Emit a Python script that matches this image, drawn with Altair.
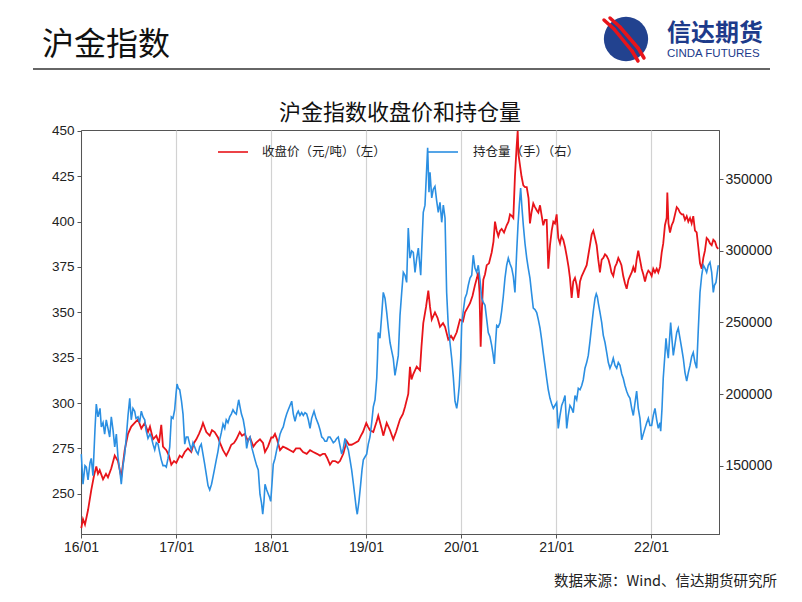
import altair as alt
import numpy as np
import pandas as pd

# ---------------- data ----------------
# time is given in years elapsed since 2016-01-01
price_years = [
    0.003, 0.021, 0.042, 0.074, 0.108, 0.137, 0.161, 0.179, 0.197, 0.232, 0.263, 0.284, 0.319, 0.355, 0.389, 0.424, 0.460, 0.495,
    0.529, 0.565, 0.600, 0.635, 0.671, 0.705, 0.726, 0.758, 0.793, 0.821, 0.845, 0.863, 0.898, 0.926, 0.951, 0.979, 1.003,
    1.039, 1.063, 1.092, 1.126, 1.161, 1.189, 1.214, 1.242, 1.266, 1.284, 1.319, 1.355, 1.379, 1.407, 1.442, 1.463, 1.495, 1.529,
    1.558, 1.582, 1.611, 1.635, 1.671, 1.695, 1.723, 1.758, 1.779, 1.814, 1.842, 1.884, 1.916, 1.937, 1.968, 1.989, 2.003,
    2.021, 2.042, 2.063, 2.095, 2.126, 2.165, 2.200, 2.235, 2.263, 2.305, 2.337, 2.376, 2.411, 2.445, 2.484, 2.516, 2.547, 2.568,
    2.589, 2.621, 2.647, 2.674, 2.705, 2.726, 2.761, 2.797, 2.821, 2.849, 2.884, 2.919, 2.947, 2.968, 3.003,
    3.021, 3.042, 3.077, 3.113, 3.129, 3.165, 3.182, 3.218, 3.253, 3.287, 3.316, 3.358, 3.389, 3.411, 3.445, 3.463, 3.479, 3.498,
    3.534, 3.568, 3.584, 3.603, 3.632, 3.656, 3.674, 3.692, 3.726, 3.753, 3.779, 3.811, 3.832, 3.866, 3.895, 3.919, 3.955, 3.989,
    4.021, 4.042, 4.074, 4.095, 4.121, 4.147, 4.168, 4.182, 4.195, 4.207, 4.221, 4.235, 4.253, 4.271, 4.295, 4.323, 4.342, 4.358,
    4.376, 4.393, 4.411, 4.428, 4.453, 4.481, 4.500, 4.516, 4.537, 4.551, 4.568, 4.584, 4.597, 4.605, 4.621, 4.637, 4.656, 4.674,
    4.692, 4.711, 4.726, 4.742, 4.761, 4.779, 4.800, 4.814, 4.832, 4.847, 4.866, 4.884, 4.902, 4.919, 4.937, 4.955, 4.972, 4.989, 5.007,
    5.024, 5.042, 5.058, 5.077, 5.095, 5.113, 5.132, 5.147, 5.165, 5.182, 5.200, 5.218, 5.235, 5.253, 5.271, 5.289, 5.323, 5.342,
    5.358, 5.376, 5.393, 5.411, 5.428, 5.445, 5.463, 5.481, 5.498, 5.516, 5.534, 5.553, 5.568, 5.584, 5.603, 5.621, 5.639, 5.656,
    5.674, 5.689, 5.708, 5.726, 5.744, 5.763, 5.779, 5.797, 5.814, 5.832, 5.849, 5.866, 5.884, 5.902, 5.919, 5.937, 5.955, 5.972,
    5.989, 6.007,
    6.024, 6.042, 6.060, 6.077, 6.095, 6.113, 6.129, 6.147, 6.165, 6.172, 6.184, 6.200, 6.218, 6.235, 6.253, 6.271, 6.287, 6.305,
    6.323, 6.340, 6.358, 6.376, 6.393, 6.411, 6.428, 6.445, 6.463, 6.481, 6.498, 6.516, 6.534, 6.551, 6.568, 6.586, 6.603, 6.621,
    6.639, 6.656, 6.674, 6.692, 6.708,
]
price_values = [
    231, 236, 233, 241, 252, 260, 265, 261, 263, 258, 261, 259, 264, 271, 268, 259, 274, 283,
    287, 289, 291, 286, 289, 284, 287, 280, 282, 278, 288, 276, 274, 271, 266, 268, 267,
    271, 270, 273, 275, 273, 278, 280, 283, 286, 289, 284, 282, 285, 284, 281, 278, 274, 271,
    274, 277, 278, 280, 284, 282, 283, 279, 281, 276, 278, 280, 278, 273, 276, 279, 281,
    281, 283, 280, 274, 276, 275, 274, 273, 275, 275, 273, 272, 274, 273, 272, 271, 272, 272,
    270, 266, 268, 268, 267, 268, 272, 279, 277, 277, 278, 279, 282, 284, 289,
    287, 285, 284, 290, 293, 286, 282, 289, 285, 280, 284, 291, 294, 298, 305, 320, 313, 316,
    320, 318, 331, 344, 353, 362, 353, 346, 350, 347, 342, 344, 342, 335, 337, 335, 339, 346,
    345, 350, 353, 355, 359, 365, 369, 372, 361, 331, 353, 368, 371, 376, 377, 383, 389, 400,
    395, 392, 395, 396, 394, 398, 400, 404, 403, 402, 425, 440, 450, 437, 431, 425, 420, 419,
    419, 413, 399, 405, 410, 408, 406, 405, 409, 404, 398, 401, 401, 374, 387, 395, 400, 399, 404,
    391, 388, 392, 390, 386, 381, 375, 369, 358, 367, 369, 365, 358, 367, 370, 372, 376, 382,
    387, 393, 395, 391, 387, 379, 372, 379, 380, 382, 381, 379, 376, 372, 370, 375, 377, 380,
    378, 376, 370, 366, 363, 368, 370, 372, 375, 372, 379, 384, 379, 374, 371, 367, 371, 373,
    372, 370,
    374, 372, 374, 372, 375, 383, 388, 398, 402, 416, 399, 394, 398, 400, 404, 408, 407, 405,
    404, 404, 401, 403, 400, 402, 399, 403, 395, 394, 386, 377, 374, 380, 384, 391, 390, 388,
    387, 390, 389, 386, 385,
]

oi_years = [
    0.003, 0.021, 0.042, 0.056, 0.074, 0.095, 0.108, 0.126, 0.147, 0.161, 0.179, 0.200, 0.214, 0.232, 0.249, 0.266, 0.284, 0.302,
    0.319, 0.337, 0.355, 0.372, 0.389, 0.411, 0.424, 0.442, 0.460, 0.477, 0.495, 0.513, 0.529, 0.547, 0.565, 0.579, 0.600, 0.616,
    0.635, 0.653, 0.671, 0.684, 0.705, 0.726, 0.740, 0.758, 0.776, 0.793, 0.811, 0.826, 0.845, 0.863, 0.884, 0.898, 0.916, 0.934,
    0.951, 0.968, 0.986,
    1.000, 1.011, 1.024, 1.039, 1.058, 1.074, 1.092, 1.108, 1.126, 1.144, 1.161, 1.179, 1.197, 1.214, 1.232, 1.249, 1.266, 1.284,
    1.302, 1.321, 1.337, 1.355, 1.374, 1.389, 1.407, 1.424, 1.442, 1.460, 1.477, 1.495, 1.513, 1.529, 1.547, 1.565, 1.582, 1.600,
    1.618, 1.635, 1.647, 1.660, 1.674, 1.689, 1.708, 1.726, 1.744, 1.761, 1.779, 1.800, 1.816, 1.832, 1.849, 1.866, 1.884, 1.900,
    1.913, 1.926, 1.937, 1.955, 1.972, 1.984, 1.997,
    2.011, 2.024, 2.042, 2.060, 2.077, 2.095, 2.113, 2.129, 2.147, 2.165, 2.182, 2.200, 2.218, 2.235, 2.253, 2.271, 2.287, 2.305,
    2.323, 2.340, 2.358, 2.376, 2.393, 2.411, 2.428, 2.453, 2.474, 2.498, 2.516, 2.534, 2.551, 2.568, 2.586, 2.603, 2.621, 2.639,
    2.656, 2.674, 2.692, 2.708, 2.726, 2.744, 2.761, 2.779, 2.797, 2.814, 2.832, 2.849, 2.866, 2.884, 2.898, 2.908, 2.926, 2.944,
    2.958, 2.972, 2.989,
    3.007, 3.024, 3.042, 3.060, 3.077, 3.095, 3.113, 3.121, 3.129, 3.147, 3.165, 3.182, 3.200, 3.218, 3.235, 3.253, 3.271, 3.287,
    3.305, 3.323, 3.340, 3.358, 3.376, 3.393, 3.411, 3.428, 3.445, 3.463, 3.481, 3.498, 3.516, 3.534, 3.551, 3.576, 3.589, 3.603,
    3.621, 3.639, 3.649, 3.663, 3.674, 3.692, 3.708, 3.726, 3.744, 3.761, 3.779, 3.797, 3.814, 3.832, 3.849, 3.866, 3.884, 3.902,
    3.919, 3.937, 3.955, 3.968, 3.982, 3.997,
    4.007, 4.024, 4.042, 4.060, 4.077, 4.095, 4.113, 4.129, 4.147, 4.165, 4.182, 4.200, 4.218, 4.235, 4.253, 4.271, 4.287, 4.305,
    4.323, 4.337, 4.351, 4.363, 4.376, 4.393, 4.411, 4.428, 4.445, 4.463, 4.481, 4.498, 4.516, 4.534, 4.551, 4.568, 4.586, 4.600,
    4.614, 4.628, 4.642, 4.656, 4.674, 4.692, 4.708, 4.726, 4.744, 4.761, 4.779, 4.797, 4.814, 4.832, 4.849, 4.866, 4.884, 4.902,
    4.919, 4.937, 4.955, 4.972, 4.989,
    5.007, 5.024, 5.042, 5.060, 5.077, 5.095, 5.113, 5.129, 5.147, 5.165, 5.182, 5.200, 5.218, 5.235, 5.253, 5.271, 5.287, 5.305,
    5.323, 5.340, 5.358, 5.376, 5.393, 5.411, 5.424, 5.435, 5.447, 5.463, 5.481, 5.498, 5.516, 5.534, 5.551, 5.568, 5.586, 5.603,
    5.621, 5.639, 5.656, 5.674, 5.692, 5.708, 5.726, 5.744, 5.761, 5.779, 5.797, 5.814, 5.832, 5.849, 5.866, 5.884, 5.902, 5.919,
    5.937, 5.955, 5.972, 5.989,
    6.007, 6.024, 6.042, 6.060, 6.077, 6.095, 6.102, 6.116, 6.129, 6.147, 6.158, 6.168, 6.182, 6.195, 6.207, 6.221, 6.235, 6.253,
    6.271, 6.287, 6.305, 6.323, 6.340, 6.358, 6.376, 6.393, 6.411, 6.428, 6.445, 6.463, 6.481, 6.498, 6.516, 6.534, 6.551, 6.568,
    6.586, 6.603, 6.621, 6.639, 6.656, 6.668, 6.684, 6.698, 6.708,
]
# open interest in thousands of lots
oi_thousands = [
    158, 137, 150, 149, 140, 152, 155, 143, 175, 193, 184, 190, 177, 180, 172, 182, 176, 170,
    184, 175, 163, 172, 156, 145, 137, 150, 158, 170, 185, 197, 182, 190, 188, 183, 184, 180,
    188, 184, 182, 175, 169, 172, 170, 165, 161, 166, 165, 160, 154, 150, 150, 149, 155, 163,
    184, 183, 189,
    200, 207, 204, 203, 195, 186, 165, 170, 170, 165, 161, 166, 163, 160, 158, 163, 165, 158,
    151, 143, 136, 133, 137, 142, 148, 154, 160, 168, 173, 179, 176, 182, 180, 184, 186, 189,
    187, 186, 191, 196, 191, 186, 182, 175, 162, 168, 170, 162, 158, 154, 150, 147, 130, 124,
    116, 125, 137, 133, 130, 128, 125,
    138, 151, 155, 161, 166, 172, 175, 177, 182, 186, 189, 192, 195, 186, 181, 186, 188, 185,
    187, 185, 187, 186, 182, 176, 183, 188, 183, 179, 175, 170, 169, 167, 167, 170, 170, 168,
    166, 167, 169, 170, 164, 158, 162, 169, 164, 161, 154, 147, 138, 128, 120, 116, 125, 137,
    147, 154, 156,
    158, 165, 170, 180, 191, 196, 211, 225, 243, 239, 255, 271, 267, 257, 246, 236, 230, 225,
    213, 220, 227, 255, 271, 285, 283, 278, 316, 295, 300, 299, 285, 295, 302, 283, 305, 327,
    332, 358, 372, 341, 355, 337, 343, 345, 335, 327, 334, 320, 332, 323, 271, 248, 236, 225,
    212, 195, 190, 196, 206, 225,
    248, 258, 267, 270, 276, 281, 283, 297, 288, 285, 290, 280, 267, 264, 262, 252, 243, 240,
    234, 228, 221, 235, 248, 247, 250, 258, 268, 281, 290, 295, 291, 288, 282, 271, 299, 318,
    332, 344, 330, 318, 305, 295, 288, 281, 270, 260, 259, 257, 252, 246, 238, 229, 220, 211,
    203, 197, 193, 190, 192,
    194, 176, 185, 192, 195, 199, 176, 185, 192, 190, 187, 199, 196, 204, 203, 206, 210, 218,
    222, 227, 237, 248, 258, 267, 270, 268, 263, 257, 250, 241, 236, 229, 222, 218, 221, 225,
    220, 218, 222, 220, 214, 211, 206, 202, 199, 197, 190, 185, 194, 202, 190, 183, 168, 172,
    176, 180, 183, 178,
    178, 185, 190, 182, 176, 180, 174, 190, 211, 228, 239, 232, 225, 238, 250, 238, 227, 235,
    243, 246, 239, 232, 225, 215, 209, 215, 220, 226, 229, 222, 218, 245, 271, 283, 290, 288,
    285, 290, 292, 285, 271, 276, 278, 285, 290,
]

assert len(price_years) == len(price_values)
assert len(oi_years) == len(oi_thousands)

start = pd.Timestamp("2016-01-01")
price_df = pd.DataFrame({
    "date": start + pd.to_timedelta(np.array(price_years) * 365.25, unit="D"),
    "price": price_values,
})
oi_df = pd.DataFrame({
    "date": start + pd.to_timedelta(np.array(oi_years) * 365.25, unit="D"),
    "oi": np.array(oi_thousands) * 1000,
})

left_ticks = [250, 275, 300, 325, 350, 375, 400, 425, 450]
right_ticks = [150000, 200000, 250000, 300000, 350000]
year_ticks = [alt.DateTime(year=y, month=1, date=1) for y in range(2016, 2023)]

RED = "#e8141a"
BLUE = "#2b8fe2"
CJK = "Noto Sans CJK SC"
LAT = "Liberation Sans"

x_enc = alt.X(
    "date:T",
    scale=alt.Scale(domain=[alt.DateTime(year=2016, month=1, date=1),
                            alt.DateTime(year=2022, month=9, date=19)]),
    axis=alt.Axis(values=year_ticks, format="%y/%m", title=None, grid=True,
                  gridColor="#d2d2d2", gridWidth=1.2, tickSize=4, labelPadding=2,
                  labelFontSize=14, labelFont=LAT, labelColor="#222",
                  domainColor="#555", tickColor="#555", labelFlush=False),
)

price_line = alt.Chart(price_df).mark_line(color=RED, strokeWidth=1.8).encode(
    x=x_enc,
    y=alt.Y("price:Q",
            scale=alt.Scale(domain=[227.8, 450.5], nice=False, zero=False),
            axis=alt.Axis(values=left_ticks, orient="left", title=None, grid=False,
                          tickSize=4, labelPadding=3, labelFontSize=13.5, labelFont=LAT,
                          labelColor="#222", domainColor="#555", tickColor="#555")),
)

oi_line = alt.Chart(oi_df).mark_line(color=BLUE, strokeWidth=1.6).encode(
    x=alt.X("date:T"),
    y=alt.Y("oi:Q",
            scale=alt.Scale(domain=[102200, 384500], nice=False, zero=False),
            axis=alt.Axis(values=right_ticks, orient="right", title=None, grid=False,
                          format="d", tickSize=4, labelPadding=2, labelFontSize=14,
                          labelFont=LAT, labelColor="#222", domainColor="#555",
                          tickColor="#555")),
)

one = pd.DataFrame({"k": [0]})


def txt(s, x, y, size, align="left", font=CJK, color="#111", weight="normal"):
    return alt.Chart(one).mark_text(
        text=s, align=align, baseline="middle", fontSize=size, font=font,
        color=color, fontWeight=weight,
    ).encode(x=alt.value(x), y=alt.value(y))


def hrule(x1, x2, y, color, width):
    return alt.Chart(one).mark_rule(color=color, strokeWidth=width).encode(
        x=alt.value(x1), x2=alt.value(x2), y=alt.value(y))


def seg(x1, y1, x2, y2, color, width):
    return alt.Chart(one).mark_rule(color=color, strokeWidth=width, strokeCap="round").encode(
        x=alt.value(x1), x2=alt.value(x2), y=alt.value(y1), y2=alt.value(y2))


decor = [
    # page header
    txt("沪金指数", -39, -85, 32),
    hrule(-48, 689, -61, "#666", 2),
    # logo
    alt.Chart(one).mark_circle(color="#22428f", size=1960, opacity=1).encode(
        x=alt.value(545), y=alt.value(-91)),
    seg(523, -110, 533, -101, RED, 3.5),
    seg(533, -101, 551, -79, RED, 3.5),
    seg(551, -79, 557, -69, RED, 3.5),
    seg(529, -112, 539, -103, RED, 3.5),
    seg(539, -103, 557, -82, RED, 3.5),
    seg(557, -82, 563, -72, RED, 3.5),
    txt("信达期货", 586, -96, 24, color="#1d3b8b", weight="bold"),
    txt("CINDA FUTURES", 586, -76, 11.5, font=LAT, color="#1d3b8b"),
    # chart title
    txt("沪金指数收盘价和持仓量", 319, -17, 22, align="center"),
    # legend
    hrule(137, 167, 22, RED, 1.6),
    txt("收盘价（元/吨）（左）", 181, 22, 12.5, color="#222"),
    hrule(346, 377, 22, BLUE, 1.6),
    txt("持仓量（手）（右）", 392, 22, 12.5, color="#222"),
    # source
    txt("数据来源：Wind、信达期货研究所", 696, 452, 14.5, align="right", color="#222"),
]

chart = alt.layer(price_line, oi_line, *decor).resolve_scale(
    y="independent"
).properties(
    width=638,
    height=404,
    padding={"left": 73, "top": 122, "right": 73, "bottom": 58},
    autosize=alt.AutoSizeParams(type="none"),
    background="white",
).configure_view(stroke="#555", strokeWidth=1)

chart.save("out.html", embed_options={"renderer": "svg", "actions": False})
